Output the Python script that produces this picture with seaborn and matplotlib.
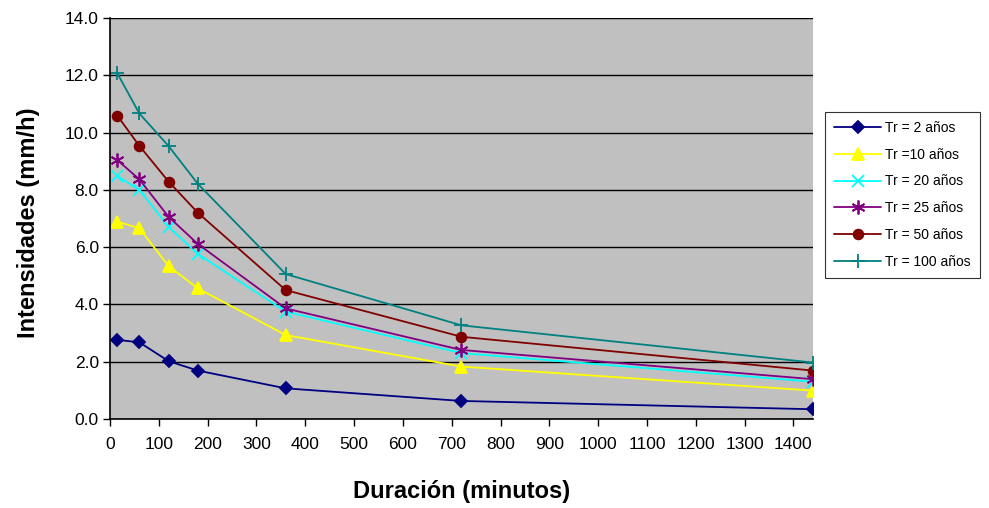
import pandas as pd
import numpy as np
import seaborn as sns
import matplotlib.pyplot as plt
from matplotlib.ticker import FormatStrFormatter

# durations (minutes) and intensities (mm/h)
duracion = [15, 60, 120, 180, 360, 720, 1440]
tr_2 = [2.76, 2.68, 2.02, 1.69, 1.07, 0.63, 0.34]
tr_10 = [6.89, 6.66, 5.34, 4.56, 2.93, 1.83, 0.99]
tr_20 = [8.48, 8.00, 6.71, 5.76, 3.75, 2.30, 1.30]
tr_25 = [9.04, 8.37, 7.06, 6.11, 3.86, 2.41, 1.39]
tr_50 = [10.59, 9.54, 8.29, 7.20, 4.50, 2.87, 1.69]
tr_100 = [12.07, 10.67, 9.53, 8.21, 5.06, 3.27, 1.97]

labels = ["Tr = 2 años", "Tr =10 años", "Tr = 20 años", "Tr = 25 años", "Tr = 50 años", "Tr = 100 años"]
series = [tr_2, tr_10, tr_20, tr_25, tr_50, tr_100]

colors = ["#000080", "#FFFF00", "#00FFFF", "#800080", "#800000", "#008080"]
marker_list = ["D", "^", "x", (6, 2, 0), "o", "+"]
msizes = [6, 8, 8, 10, 7, 10]

sns.set_style("white")
plt.rcParams['font.family'] = ['Liberation Sans', 'DejaVu Sans']
plt.rcParams['text.color'] = 'black'
plt.rcParams['axes.labelcolor'] = 'black'
plt.rcParams['xtick.color'] = 'black'
plt.rcParams['ytick.color'] = 'black'

fig = plt.figure(figsize=(9.89, 5.08), dpi=100)
ax = fig.add_axes([0.1112, 0.1752, 0.7108, 0.7894])
ax.set_facecolor("#C0C0C0")

for lab, vals, col, mk, ms in zip(labels, series, colors, marker_list, msizes):
    df = pd.DataFrame({"Duracion": duracion, "Intensidad": vals})
    sns.lineplot(data=df, x="Duracion", y="Intensidad", color=col, marker=mk,
                 markersize=ms, markeredgecolor=col, markerfacecolor=col,
                 markeredgewidth=1.3, linewidth=1.3, label=lab, ax=ax)

ax.set_xlim(0, 1440)
ax.set_ylim(0, 14)
ax.set_xticks(np.arange(0, 1401, 100))
ax.set_yticks(np.arange(0, 14.1, 2))
ax.yaxis.set_major_formatter(FormatStrFormatter("%.1f"))
ax.grid(axis="y", color="black", linewidth=1.0)
ax.grid(axis="x", visible=False)
ax.set_axisbelow(True)

for s in ["top", "right"]:
    ax.spines[s].set_visible(False)
for s in ["left", "bottom"]:
    ax.spines[s].set_color("black")
    ax.spines[s].set_linewidth(1.2)

ax.tick_params(axis="both", direction="out", length=5, width=1, color="black",
               bottom=True, left=True)
ax.tick_params(axis="y", labelsize=12.5, pad=3)
ax.tick_params(axis="x", labelsize=12.5, pad=8)
for t in ax.get_xticklabels():
    t.set_family(['Liberation Sans Narrow', 'Liberation Sans'])

ax.set_xlabel("Duración (minutos)", fontsize=17, fontweight="bold", labelpad=20)
ax.set_ylabel("Intensidades (mm/h)", fontsize=17, fontweight="bold")
ax.yaxis.set_label_coords(-0.1, 0.49)

leg = ax.legend(loc="upper left", bbox_to_anchor=(1.017, 0.766), borderaxespad=0,
                frameon=True, fancybox=False, edgecolor="black", fontsize=10,
                labelspacing=0.92, handlelength=3.4, borderpad=0.65, handletextpad=0.3)
leg.get_frame().set_linewidth(0.8)

fig.savefig("out.png", dpi=100)
